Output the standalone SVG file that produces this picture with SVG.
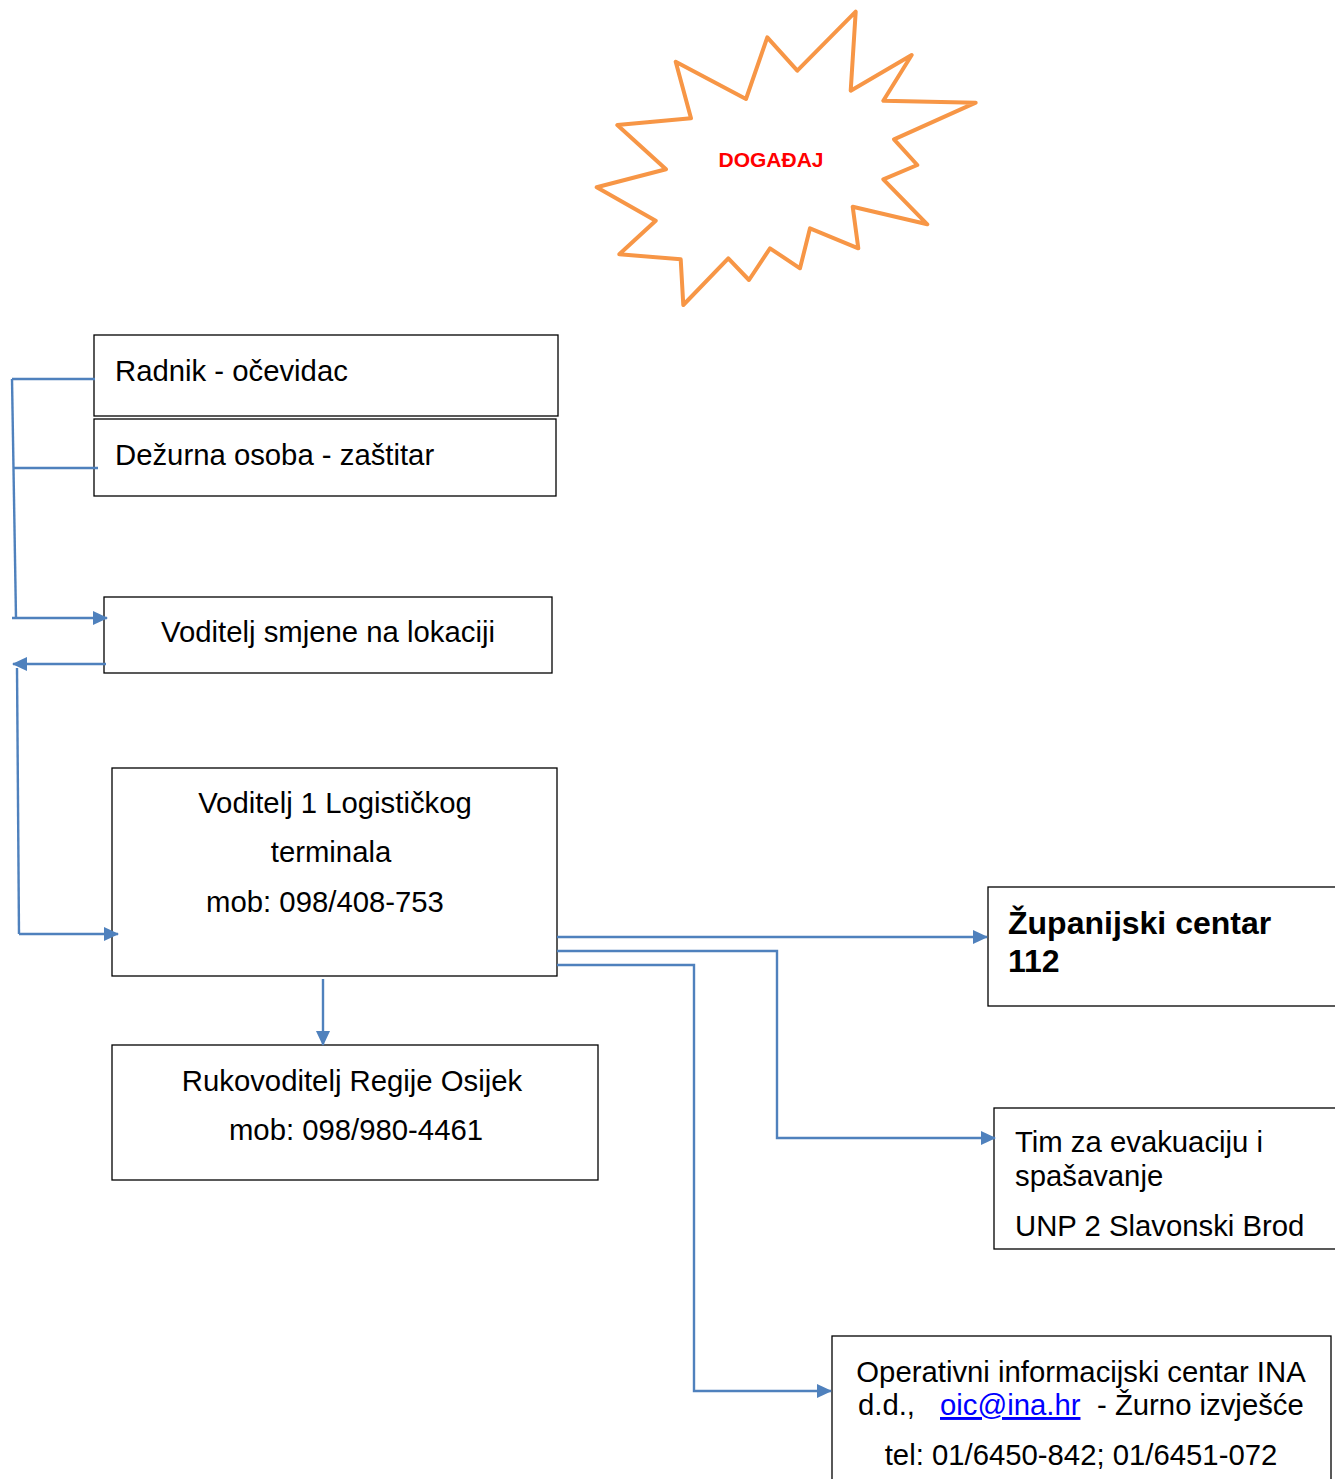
<svg xmlns="http://www.w3.org/2000/svg" width="1335" height="1479" viewBox="0 0 1335 1479">
<style>
.box{fill:#fff;stroke:#000;stroke-width:1.3}
.t{font-family:"Liberation Sans",Arial,sans-serif;font-size:29.3px;fill:#000}
.c{text-anchor:middle}
.b{font-weight:bold;font-size:32px}
.ln{fill:none;stroke:#4F81BD;stroke-width:2.4}
</style>
<defs>
<marker id="ah" viewBox="0 0 15 14" refX="14" refY="7" markerWidth="15" markerHeight="14" markerUnits="userSpaceOnUse" orient="auto">
<path d="M0,0 L15,7 L0,14 Z" fill="#4F81BD"/>
</marker>
</defs>
<rect width="1335" height="1479" fill="#fff"/>
<g id="dogadaj">
<polygon points="855.7,11.7 850.7,90.7 911.7,55 883.3,100.7 975.7,102.7 894,139.3 917.3,165 883.3,179.3 927.3,224.3 852.7,206.7 858.3,248.3 810,228.3 800,268.3 770,248.3 749,280 728.3,258.3 683.3,305 680.7,259.3 619.3,254.3 655.7,220.7 596.7,187.3 666,169.3 617.3,125 691,118.3 675.7,61.7 746,99 767.3,37.3 797.3,70.7" fill="#fff" stroke="#F79646" stroke-width="4" stroke-linejoin="round"/>
<text x="771" y="167" font-family="Liberation Sans,Arial,sans-serif" font-size="21" font-weight="bold" fill="#FF0000" text-anchor="middle">DOGAĐAJ</text>
</g>
<g id="radnik">
<rect class="box" x="94" y="335" width="464" height="81"/>
<text class="t" x="115" y="381">Radnik - očevidac</text>
</g>
<g id="dezurna">
<rect class="box" x="94" y="419" width="462" height="77"/>
<text class="t" x="115" y="465">Dežurna osoba - zaštitar</text>
</g>
<g id="voditelj-smjene">
<rect class="box" x="104" y="597" width="448" height="76"/>
<text class="t c" x="328" y="642">Voditelj smjene na lokaciji</text>
</g>
<g id="voditelj-1">
<rect class="box" x="112" y="768" width="445" height="208"/>
<text class="t c" x="335" y="813">Voditelj 1 Logističkog</text>
<text class="t c" x="331" y="862">terminala</text>
<text class="t c" x="325" y="912">mob: 098/408-753</text>
</g>
<g id="rukovoditelj">
<rect class="box" x="112" y="1045" width="486" height="135"/>
<text class="t c" x="352" y="1091">Rukovoditelj Regije Osijek</text>
<text class="t c" x="356" y="1140">mob: 098/980-4461</text>
</g>
<g id="zupanijski">
<rect class="box" x="988" y="887" width="360" height="119"/>
<text class="t b" x="1008" y="934">Županijski centar</text>
<text class="t b" x="1008" y="972">112</text>
</g>
<g id="tim">
<rect class="box" x="994" y="1108" width="360" height="141"/>
<text class="t" x="1015" y="1152">Tim za evakuaciju i</text>
<text class="t" x="1015" y="1186">spašavanje</text>
<text class="t" x="1015" y="1236">UNP 2 Slavonski Brod</text>
</g>
<g id="oic">
<rect class="box" x="832" y="1336" width="499" height="160"/>
<text class="t c" x="1081" y="1382">Operativni informacijski centar INA</text>
<text class="t" y="1415"><tspan x="858">d.d.,</tspan><tspan x="940" fill="#0000FF" text-decoration="underline">oic@ina.hr</tspan><tspan x="1097">- Žurno izvješće</tspan></text>
<text class="t c" x="1081" y="1465">tel: 01/6450-842; 01/6451-072</text>
</g>
<g id="connectors">
<polyline class="ln" points="95,379 12,379"/>
<polyline class="ln" points="98,468 14,468"/>
<polyline class="ln" points="12,379 16,618"/>
<polyline class="ln" points="12,618 107,618" marker-end="url(#ah)"/>
<polyline class="ln" points="106,664 13,664" marker-end="url(#ah)"/>
<polyline class="ln" points="17,668 19,934"/>
<polyline class="ln" points="19,934 118,934" marker-end="url(#ah)"/>
<polyline class="ln" points="323,979 323,1045" marker-end="url(#ah)"/>
<polyline class="ln" points="557,937 987,937" marker-end="url(#ah)"/>
<polyline class="ln" points="557,951 777,951 777,1138 995,1138" marker-end="url(#ah)"/>
<polyline class="ln" points="557,965 694,965 694,1391 831,1391" marker-end="url(#ah)"/>
</g>
</svg>
